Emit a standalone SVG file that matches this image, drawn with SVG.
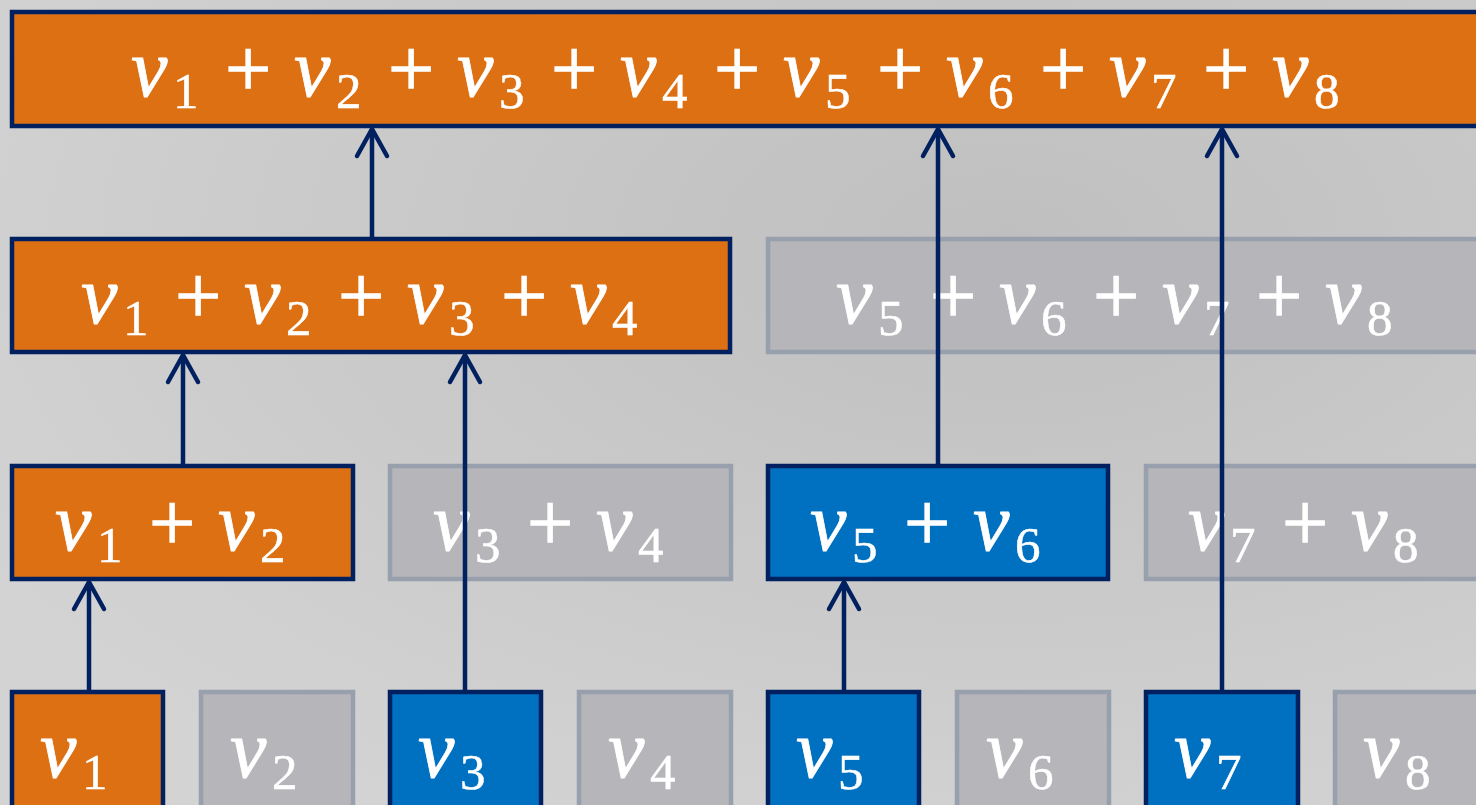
<svg xmlns="http://www.w3.org/2000/svg" width="1476" height="805" viewBox="0 0 1476 805">
<defs>
<radialGradient id="bg" cx="0.68" cy="0.3" r="0.8">
<stop offset="0" stop-color="#bfbfbf"/>
<stop offset="1" stop-color="#d3d3d3"/>
</radialGradient>
<marker id="ah" markerUnits="userSpaceOnUse" markerWidth="40" markerHeight="40" viewBox="-35 -20 40 40" refX="0" refY="0" orient="auto">
<path d="M-27,-15 L0,0 L-27,15" fill="none" stroke="#002060" stroke-width="4.5" stroke-linecap="round" stroke-linejoin="round"/>
</marker>
</defs>
<style>
.or{fill:#dd7013;stroke:#002060;stroke-width:4.5}
.bl{fill:#0070c0;stroke:#002060;stroke-width:4.5}
.gr{fill:#b5b5ba;stroke:#98a0ae;stroke-width:4.5}
.t{fill:#ffffff;stroke:#ffffff}
.v{font-family:"Liberation Serif",serif;font-style:italic;font-size:82px;stroke-width:0.8}
.s{font-family:"Liberation Serif",serif;font-size:51px;stroke-width:0.5}
.p{font-family:"Liberation Serif",serif;font-size:82px;stroke-width:1.3}
.c line{stroke:#002060;stroke-width:4.5;marker-end:url(#ah)}
</style>
<rect x="0" y="0" width="1476" height="805" fill="url(#bg)"/>

<g id="sum18">
<rect class="or" x="12" y="12" width="1480" height="114"/>
<text class="t"><tspan class="v" x="131" y="96">v</tspan><tspan class="s" x="173" y="108">1</tspan><tspan class="p" x="225" y="96">+</tspan><tspan class="v" x="294" y="96">v</tspan><tspan class="s" x="336" y="108">2</tspan><tspan class="p" x="388" y="96">+</tspan><tspan class="v" x="457" y="96">v</tspan><tspan class="s" x="499" y="108">3</tspan><tspan class="p" x="551" y="96">+</tspan><tspan class="v" x="620" y="96">v</tspan><tspan class="s" x="662" y="108">4</tspan><tspan class="p" x="714" y="96">+</tspan><tspan class="v" x="783" y="96">v</tspan><tspan class="s" x="825" y="108">5</tspan><tspan class="p" x="877" y="96">+</tspan><tspan class="v" x="946" y="96">v</tspan><tspan class="s" x="988" y="108">6</tspan><tspan class="p" x="1040" y="96">+</tspan><tspan class="v" x="1109" y="96">v</tspan><tspan class="s" x="1151" y="108">7</tspan><tspan class="p" x="1203" y="96">+</tspan><tspan class="v" x="1272" y="96">v</tspan><tspan class="s" x="1314" y="108">8</tspan></text>
</g>

<g id="sum14">
<rect class="or" x="12" y="239" width="718" height="113"/>
<text class="t"><tspan class="v" x="81" y="323">v</tspan><tspan class="s" x="123" y="335">1</tspan><tspan class="p" x="175" y="323">+</tspan><tspan class="v" x="244" y="323">v</tspan><tspan class="s" x="286" y="335">2</tspan><tspan class="p" x="338" y="323">+</tspan><tspan class="v" x="407" y="323">v</tspan><tspan class="s" x="449" y="335">3</tspan><tspan class="p" x="501" y="323">+</tspan><tspan class="v" x="570" y="323">v</tspan><tspan class="s" x="612" y="335">4</tspan></text>
</g>

<g id="sum58">
<rect class="gr" x="768" y="239" width="720" height="113"/>
<text class="t"><tspan class="v" x="836" y="323">v</tspan><tspan class="s" x="878" y="335">5</tspan><tspan class="p" x="930" y="323">+</tspan><tspan class="v" x="999" y="323">v</tspan><tspan class="s" x="1041" y="335">6</tspan><tspan class="p" x="1093" y="323">+</tspan><tspan class="v" x="1162" y="323">v</tspan><tspan class="s" x="1204" y="335">7</tspan><tspan class="p" x="1256" y="323">+</tspan><tspan class="v" x="1325" y="323">v</tspan><tspan class="s" x="1367" y="335">8</tspan></text>
</g>

<g id="sum12">
<rect class="or" x="12" y="466" width="341" height="113"/>
<text class="t"><tspan class="v" x="55" y="550">v</tspan><tspan class="s" x="97" y="562">1</tspan><tspan class="p" x="149" y="550">+</tspan><tspan class="v" x="218" y="550">v</tspan><tspan class="s" x="260" y="562">2</tspan></text>
</g>
<g id="sum34">
<rect class="gr" x="390" y="466" width="341" height="113"/>
<text class="t"><tspan class="v" x="433" y="550">v</tspan><tspan class="s" x="475" y="562">3</tspan><tspan class="p" x="527" y="550">+</tspan><tspan class="v" x="596" y="550">v</tspan><tspan class="s" x="638" y="562">4</tspan></text>
</g>
<g id="sum56">
<rect class="bl" x="768" y="466" width="340" height="113"/>
<text class="t"><tspan class="v" x="810" y="550">v</tspan><tspan class="s" x="852" y="562">5</tspan><tspan class="p" x="904" y="550">+</tspan><tspan class="v" x="973" y="550">v</tspan><tspan class="s" x="1015" y="562">6</tspan></text>
</g>
<g id="sum78">
<rect class="gr" x="1146" y="466" width="341" height="113"/>
<text class="t"><tspan class="v" x="1188" y="550">v</tspan><tspan class="s" x="1230" y="562">7</tspan><tspan class="p" x="1282" y="550">+</tspan><tspan class="v" x="1351" y="550">v</tspan><tspan class="s" x="1393" y="562">8</tspan></text>
</g>

<g id="v1"><rect class="or" x="12" y="692" width="151" height="120"/><text class="t"><tspan class="v" x="40" y="777">v</tspan><tspan class="s" x="82" y="789">1</tspan></text></g>
<g id="v2"><rect class="gr" x="201" y="692" width="152" height="120"/><text class="t"><tspan class="v" x="230" y="777">v</tspan><tspan class="s" x="272" y="789">2</tspan></text></g>
<g id="v3"><rect class="bl" x="390" y="692" width="151" height="120"/><text class="t"><tspan class="v" x="418" y="777">v</tspan><tspan class="s" x="460" y="789">3</tspan></text></g>
<g id="v4"><rect class="gr" x="579" y="692" width="152" height="120"/><text class="t"><tspan class="v" x="608" y="777">v</tspan><tspan class="s" x="650" y="789">4</tspan></text></g>
<g id="v5"><rect class="bl" x="768" y="692" width="151" height="120"/><text class="t"><tspan class="v" x="796" y="777">v</tspan><tspan class="s" x="838" y="789">5</tspan></text></g>
<g id="v6"><rect class="gr" x="957" y="692" width="152" height="120"/><text class="t"><tspan class="v" x="986" y="777">v</tspan><tspan class="s" x="1028" y="789">6</tspan></text></g>
<g id="v7"><rect class="bl" x="1146" y="692" width="152" height="120"/><text class="t"><tspan class="v" x="1174" y="777">v</tspan><tspan class="s" x="1216" y="789">7</tspan></text></g>
<g id="v8"><rect class="gr" x="1335" y="692" width="152" height="120"/><text class="t"><tspan class="v" x="1363" y="777">v</tspan><tspan class="s" x="1405" y="789">8</tspan></text></g>

<g id="connectors" class="c">
<line x1="89" y1="690" x2="89" y2="582"/>
<line x1="465" y1="690" x2="465" y2="355"/>
<line x1="844" y1="690" x2="844" y2="582"/>
<line x1="1222" y1="690" x2="1222" y2="129"/>
<line x1="183" y1="464" x2="183" y2="355"/>
<line x1="938" y1="464" x2="938" y2="129"/>
<line x1="372" y1="237" x2="372" y2="129"/>
</g>
</svg>
